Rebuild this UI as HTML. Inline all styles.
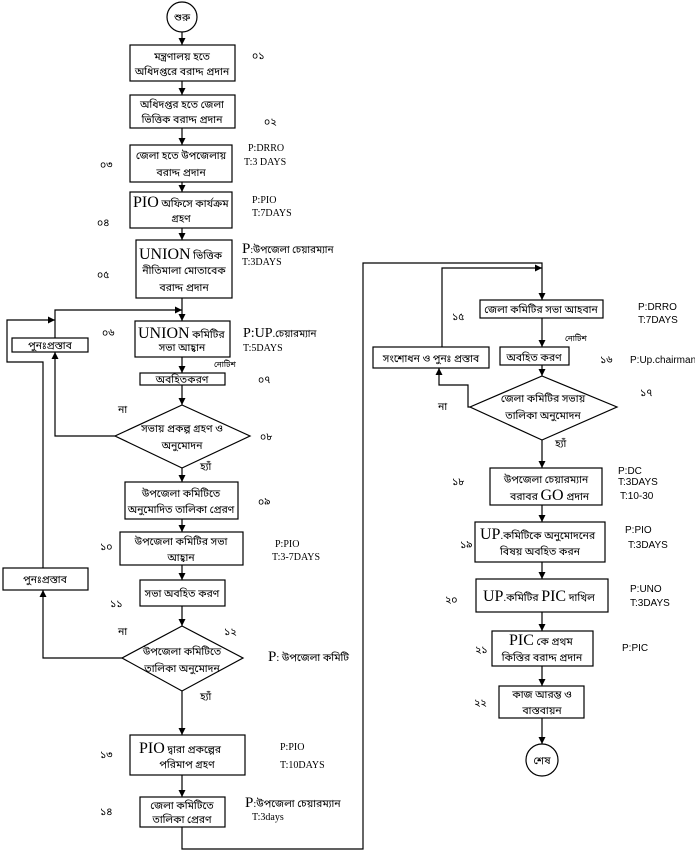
<!DOCTYPE html>
<html><head><meta charset="utf-8"><style>
html,body{margin:0;padding:0;background:#fff;}
svg{display:block;}
text{font-family:"Liberation Serif","Noto Sans Bengali","Lohit Bengali",serif;fill:#000;}
.b{font-size:10.5px;text-anchor:middle;}
.n{font-size:10.5px;}
.s{font-size:10px;}
.a{font-family:"Liberation Sans",sans-serif;font-size:10px;}
.L{font-size:16px;}
</style></head><body>
<svg width="695" height="853" viewBox="0 0 695 853" xmlns="http://www.w3.org/2000/svg">
<defs><marker id="ar" markerWidth="8" markerHeight="8" refX="7" refY="4" orient="auto" markerUnits="userSpaceOnUse"><path d="M0,0.5 L7,4 L0,7.5z" fill="#000"/></marker></defs>
<g fill="none" stroke="#000" stroke-width="1.2">
<circle cx="182" cy="17" r="15"/>
<rect x="130" y="45" width="105" height="36"/>
<rect x="130" y="95" width="105" height="33"/>
<rect x="130" y="145" width="102" height="37"/>
<rect x="130" y="192" width="102" height="36"/>
<rect x="136" y="240" width="96" height="58"/>
<rect x="135" y="321" width="95" height="36"/>
<rect x="12" y="338" width="76" height="14"/>
<rect x="140" y="373" width="85" height="12"/>
<polygon points="182,405 250,436 182,468 115,436"/>
<rect x="125" y="482" width="113" height="37"/>
<rect x="120" y="532" width="123" height="33"/>
<rect x="140" y="580" width="85" height="26"/>
<rect x="3" y="568" width="85" height="22"/>
<polygon points="182,626 243,658 182,691 122,658"/>
<rect x="130" y="735" width="115" height="40"/>
<rect x="140" y="797" width="85" height="30"/>
<rect x="480" y="300" width="123" height="18"/>
<rect x="500" y="347" width="69" height="18"/>
<rect x="373" y="347" width="116" height="21"/>
<polygon points="542,376 617,407 542,440 470,407"/>
<rect x="490" y="468" width="112" height="37"/>
<rect x="475" y="522" width="130" height="40"/>
<rect x="476" y="579" width="132" height="33"/>
<rect x="492" y="631" width="101" height="35"/>
<rect x="499" y="686" width="85" height="32"/>
<circle cx="542" cy="760" r="16"/>
</g>
<g fill="none" stroke="#000" stroke-width="1.2" marker-end="url(#ar)">
<line x1="182" y1="32" x2="182" y2="45"/>
<line x1="182" y1="81" x2="182" y2="95"/>
<line x1="182" y1="128" x2="182" y2="145"/>
<line x1="182" y1="182" x2="182" y2="192"/>
<line x1="182" y1="228" x2="182" y2="240"/>
<line x1="182" y1="298" x2="182" y2="321"/>
<polyline points="55,338 55,310 182,310"/>
<polyline points="43,568 43,362 7,362 7,320 55,320"/>
<line x1="182" y1="357" x2="182" y2="373"/>
<line x1="182" y1="385" x2="182" y2="405"/>
<polyline points="115,436 55,436 55,352"/>
<line x1="182" y1="468" x2="182" y2="482"/>
<line x1="182" y1="519" x2="182" y2="532"/>
<line x1="182" y1="565" x2="182" y2="580"/>
<line x1="182" y1="606" x2="182" y2="626"/>
<polyline points="122,658 43,658 43,590"/>
<line x1="182" y1="691" x2="182" y2="735"/>
<line x1="182" y1="775" x2="182" y2="797"/>
<polyline points="182,827 182,849 363,849 363,263 542,263 542,300"/>
<polyline points="442,347 442,268 542,268"/>
<line x1="542" y1="318" x2="542" y2="347"/>
<line x1="542" y1="365" x2="542" y2="376"/>
<polyline points="470,407 468,407 468,385 439,385 439,368"/>
<line x1="542" y1="440" x2="542" y2="468"/>
<line x1="542" y1="505" x2="542" y2="522"/>
<line x1="542" y1="562" x2="542" y2="579"/>
<line x1="542" y1="612" x2="542" y2="631"/>
<line x1="542" y1="666" x2="542" y2="686"/>
<line x1="542" y1="718" x2="542" y2="744"/>
</g>
<text class="b" x="182" y="21">শুরু</text>
<text class="b" x="182" y="60">মন্ত্রণালয় হতে</text>
<text class="b" x="182" y="75">অধিদপ্তরে বরাদ্দ প্রদান</text>
<text class="b" x="182" y="108">অধিদপ্তর  হতে জেলা</text>
<text class="b" x="182" y="123">ভিত্তিক বরাদ্দ প্রদান</text>
<text class="b" x="181" y="159">জেলা হতে উপজেলায়</text>
<text class="b" x="181" y="176">বরাদ্দ প্রদান</text>
<text x="133" y="207"><tspan class="L">PIO</tspan><tspan class="n"> অফিসে কার্যক্রম</tspan></text>
<text class="b" x="181" y="222">গ্রহণ</text>
<text x="139" y="259"><tspan class="L">UNION</tspan><tspan class="n"> ভিত্তিক</tspan></text>
<text class="b" x="184" y="274">নীতিমালা মোতাবেক</text>
<text class="b" x="184" y="291">বরাদ্দ প্রদান</text>
<text class="n" x="252" y="59">০১</text>
<text class="n" x="264" y="125">০২</text>
<text class="n" x="100" y="168">০৩</text>
<text class="n" x="97" y="226">০৪</text>
<text class="n" x="97" y="278">০৫</text>
<text class="s" x="248" y="151">P:DRRO</text>
<text class="s" x="244" y="165">T:3 DAYS</text>
<text class="s" x="252" y="203">P:PIO</text>
<text class="s" x="252" y="216">T:7DAYS</text>
<text x="242" y="253"><tspan style="font-size:15px">P</tspan><tspan class="s">:উপজেলা চেয়ারম্যান</tspan></text>
<text class="s" x="242" y="265">T:3DAYS</text>
<text x="138" y="338"><tspan class="L">UNION</tspan><tspan class="n"> কমিটির</tspan></text>
<text class="b" x="182" y="351">সভা আহ্বান</text>
<text class="b" x="50" y="349">পুনঃপ্রস্তাব</text>
<text class="n" x="102" y="336">০৬</text>
<text x="243" y="337"><tspan style="font-size:14px">P:UP</tspan><tspan class="s">.চেয়ারম্যান</tspan></text>
<text class="s" x="243" y="351">T:5DAYS</text>
<text x="214" y="367" style="font-size:8px">নোটিশ</text>
<text class="b" x="182" y="383">অবহিতকরণ</text>
<text class="n" x="258" y="383">০৭</text>
<text class="n" x="118" y="413">না</text>
<text class="b" x="182" y="432">সভায় প্রকল্প গ্রহণ ও</text>
<text class="b" x="182" y="449">অনুমোদন</text>
<text class="n" x="260" y="440">০৮</text>
<text class="n" x="200" y="470">হ্যাঁ</text>
<text class="b" x="181" y="497">উপজেলা কমিটিতে</text>
<text class="b" x="181" y="513">অনুমোদিত তালিকা প্রেরণ</text>
<text class="n" x="258" y="505">০৯</text>
<text class="b" x="181" y="545">উপজেলা কমিটির সভা</text>
<text class="b" x="181" y="561">আহ্বান</text>
<text class="n" x="100" y="550">১০</text>
<text class="s" x="275" y="547">P:PIO</text>
<text class="s" x="272" y="560">T:3-7DAYS</text>
<text class="b" x="182" y="597">সভা অবহিত করণ</text>
<text class="b" x="45" y="583">পুনঃপ্রস্তাব</text>
<text class="n" x="110" y="607">১১</text>
<text class="n" x="118" y="635">না</text>
<text class="n" x="224" y="635">১২</text>
<text class="b" x="182" y="655">উপজেলা কমিটিতে</text>
<text class="b" x="182" y="672">তালিকা অনুমোদন</text>
<text x="268" y="661"><tspan style="font-size:15px">P</tspan><tspan class="n">: উপজেলা কমিটি</tspan></text>
<text class="n" x="200" y="700">হ্যাঁ</text>
<text x="139" y="753"><tspan class="L">PIO</tspan><tspan class="n">  দ্বারা প্রকল্পের</tspan></text>
<text class="b" x="187" y="768">পরিমাপ গ্রহণ</text>
<text class="n" x="100" y="758">১৩</text>
<text class="s" x="280" y="750">P:PIO</text>
<text class="s" x="280" y="768">T:10DAYS</text>
<text class="b" x="182" y="809">জেলা কমিটিতে</text>
<text class="b" x="182" y="823">তালিকা প্রেরণ</text>
<text class="n" x="100" y="815">১৪</text>
<text x="245" y="807"><tspan style="font-size:15px">P</tspan><tspan class="n">:উপজেলা চেয়ারম্যান</tspan></text>
<text class="s" x="252" y="820">T:3days</text>
<text class="b" x="541" y="313">জেলা কমিটির সভা আহবান</text>
<text class="n" x="452" y="320">১৫</text>
<text class="a" x="638" y="310">P:DRRO</text>
<text class="a" x="638" y="323">T:7DAYS</text>
<text x="565" y="341" style="font-size:8px">নোটিশ</text>
<text class="b" x="534" y="361">অবহিত করণ</text>
<text class="b" x="431" y="362">সংশোধন ও  পুনঃ প্রস্তাব</text>
<text class="n" x="600" y="363">১৬</text>
<text class="a" x="630" y="363">P:Up.chairman</text>
<text class="b" x="543" y="402">জেলা কমিটির সভায়</text>
<text class="b" x="543" y="419">তালিকা অনুমোদন</text>
<text class="n" x="438" y="410">না</text>
<text class="n" x="640" y="396">১৭</text>
<text class="n" x="555" y="447">হ্যাঁ</text>
<text class="b" x="546" y="483">উপজেলা চেয়ারম্যান</text>
<text x="510" y="500"><tspan class="n">বরাবর </tspan><tspan class="L">GO</tspan><tspan class="n"> প্রদান</tspan></text>
<text class="n" x="452" y="485">১৮</text>
<text class="a" x="618" y="474">P:DC</text>
<text class="a" x="618" y="485">T:3DAYS</text>
<text class="a" x="620" y="499">T:10-30</text>
<text x="480" y="539"><tspan class="L">UP</tspan><tspan class="n">.কমিটিকে অনুমোদনের</tspan></text>
<text class="b" x="540" y="555">বিষয় অবহিত করন</text>
<text class="n" x="460" y="548">১৯</text>
<text class="a" x="625" y="533">P:PIO</text>
<text class="a" x="628" y="548">T:3DAYS</text>
<text x="483" y="601"><tspan class="L">UP</tspan><tspan class="n">.কমিটির </tspan><tspan class="L">PIC</tspan><tspan class="n"> দাখিল</tspan></text>
<text class="n" x="445" y="603">২০</text>
<text class="a" x="630" y="592">P:UNO</text>
<text class="a" x="630" y="606">T:3DAYS</text>
<text x="509" y="645"><tspan class="L">PIC</tspan><tspan class="n"> কে প্রথম</tspan></text>
<text class="b" x="542" y="661">কিস্তির বরাদ্দ প্রদান</text>
<text class="n" x="475" y="653">২১</text>
<text class="a" x="622" y="651">P:PIC</text>
<text class="b" x="542" y="698">কাজ আরম্ভ ও</text>
<text class="b" x="542" y="714">বাস্তবায়ন</text>
<text class="n" x="474" y="706">২২</text>
<text class="b" x="542" y="764">শেষ</text>
</svg>
</body></html>
